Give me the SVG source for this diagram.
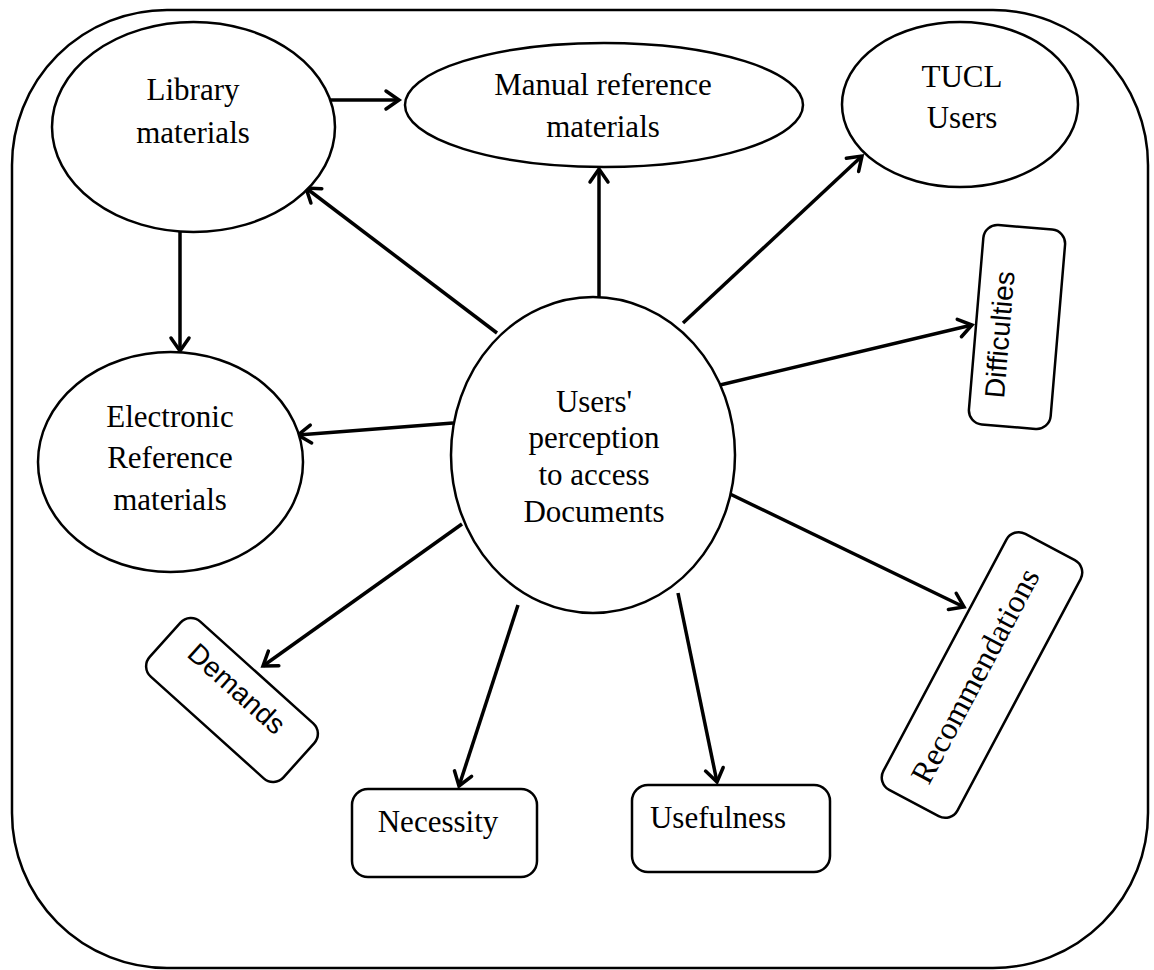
<svg xmlns="http://www.w3.org/2000/svg" width="1154" height="970" viewBox="0 0 1154 970">
<style>
.shape{fill:#fff;stroke:#000;stroke-width:2.5}
.serif{font-family:"Liberation Serif","Times New Roman",serif;font-size:31px;fill:#000;text-anchor:middle}
.sans{font-family:"Liberation Sans",Arial,sans-serif;font-size:28px;fill:#000;text-anchor:middle}
.conn{stroke:#000;stroke-width:3.5;fill:none;marker-end:url(#ah)}
</style>
<defs>
<marker id="ah" markerUnits="userSpaceOnUse" markerWidth="40" markerHeight="40" viewBox="-20 -20 40 40" refX="0" refY="0" orient="auto">
<path d="M-13,-9 L0,0 L-13,9" fill="none" stroke="#000" stroke-width="3.5" stroke-linecap="round"/>
</marker>
</defs>
<rect id="frame" x="12" y="10" width="1136" height="958" rx="155" ry="155" fill="#fff" stroke="#000" stroke-width="2.5"/>
<g id="connectors">
<line class="conn" x1="322" y1="100" x2="399" y2="100"/>
<line class="conn" x1="180" y1="232" x2="180" y2="351"/>
<line class="conn" x1="497" y1="333" x2="306" y2="188"/>
<line class="conn" x1="599" y1="297" x2="599" y2="169"/>
<line class="conn" x1="683" y1="323" x2="862" y2="156"/>
<line class="conn" x1="720" y1="385" x2="972" y2="325"/>
<line class="conn" x1="453" y1="423" x2="298" y2="435"/>
<line class="conn" x1="728" y1="493" x2="964" y2="607"/>
<line class="conn" x1="462" y1="524" x2="263" y2="666"/>
<line class="conn" x1="518" y1="605" x2="459" y2="786"/>
<line class="conn" x1="678" y1="593" x2="717" y2="782"/>
</g>
<g id="library">
<ellipse class="shape" cx="193.5" cy="127" rx="141.5" ry="105"/>
<text class="serif" x="193" y="100">Library</text>
<text class="serif" x="193" y="143">materials</text>
</g>
<g id="manual">
<ellipse class="shape" cx="604" cy="105" rx="199" ry="62"/>
<text class="serif" x="603" y="95">Manual reference</text>
<text class="serif" x="603" y="137">materials</text>
</g>
<g id="tucl">
<ellipse class="shape" cx="960" cy="104.5" rx="118" ry="82.5"/>
<text class="serif" x="962" y="87">TUCL</text>
<text class="serif" x="962" y="128">Users</text>
</g>
<g id="electronic">
<ellipse class="shape" cx="170.5" cy="462" rx="132.5" ry="110"/>
<text class="serif" x="170" y="427">Electronic</text>
<text class="serif" x="170" y="468">Reference</text>
<text class="serif" x="170" y="510">materials</text>
</g>
<g id="center">
<ellipse class="shape" cx="593" cy="455" rx="142" ry="158"/>
<text class="serif" x="594" y="412">Users'</text>
<text class="serif" x="594" y="448">perception</text>
<text class="serif" x="594" y="485">to access</text>
<text class="serif" x="594" y="522">Documents</text>
</g>
<g id="difficulties" transform="translate(1017,327) rotate(-85.2)">
<rect class="shape" x="-100" y="-41" width="200" height="82" rx="14"/>
<text class="sans" x="-9" y="-7">Difficulties</text>
</g>
<g id="recommendations" transform="translate(982,675) rotate(-62)">
<rect class="shape" x="-145" y="-42" width="290" height="84" rx="14"/>
<text class="serif" x="-4" y="5" style="font-size:32px">Recommendations</text>
</g>
<g id="demands" transform="translate(232,700) rotate(42)">
<rect class="shape" x="-90" y="-37" width="180" height="74" rx="14"/>
<text class="sans" x="-4" y="-2">Demands</text>
</g>
<g id="necessity">
<rect class="shape" x="352" y="789" width="185" height="88" rx="16"/>
<text class="serif" x="438" y="832">Necessity</text>
</g>
<g id="usefulness">
<rect class="shape" x="632" y="785" width="198" height="87" rx="16"/>
<text class="serif" x="718" y="828">Usefulness</text>
</g>
</svg>
